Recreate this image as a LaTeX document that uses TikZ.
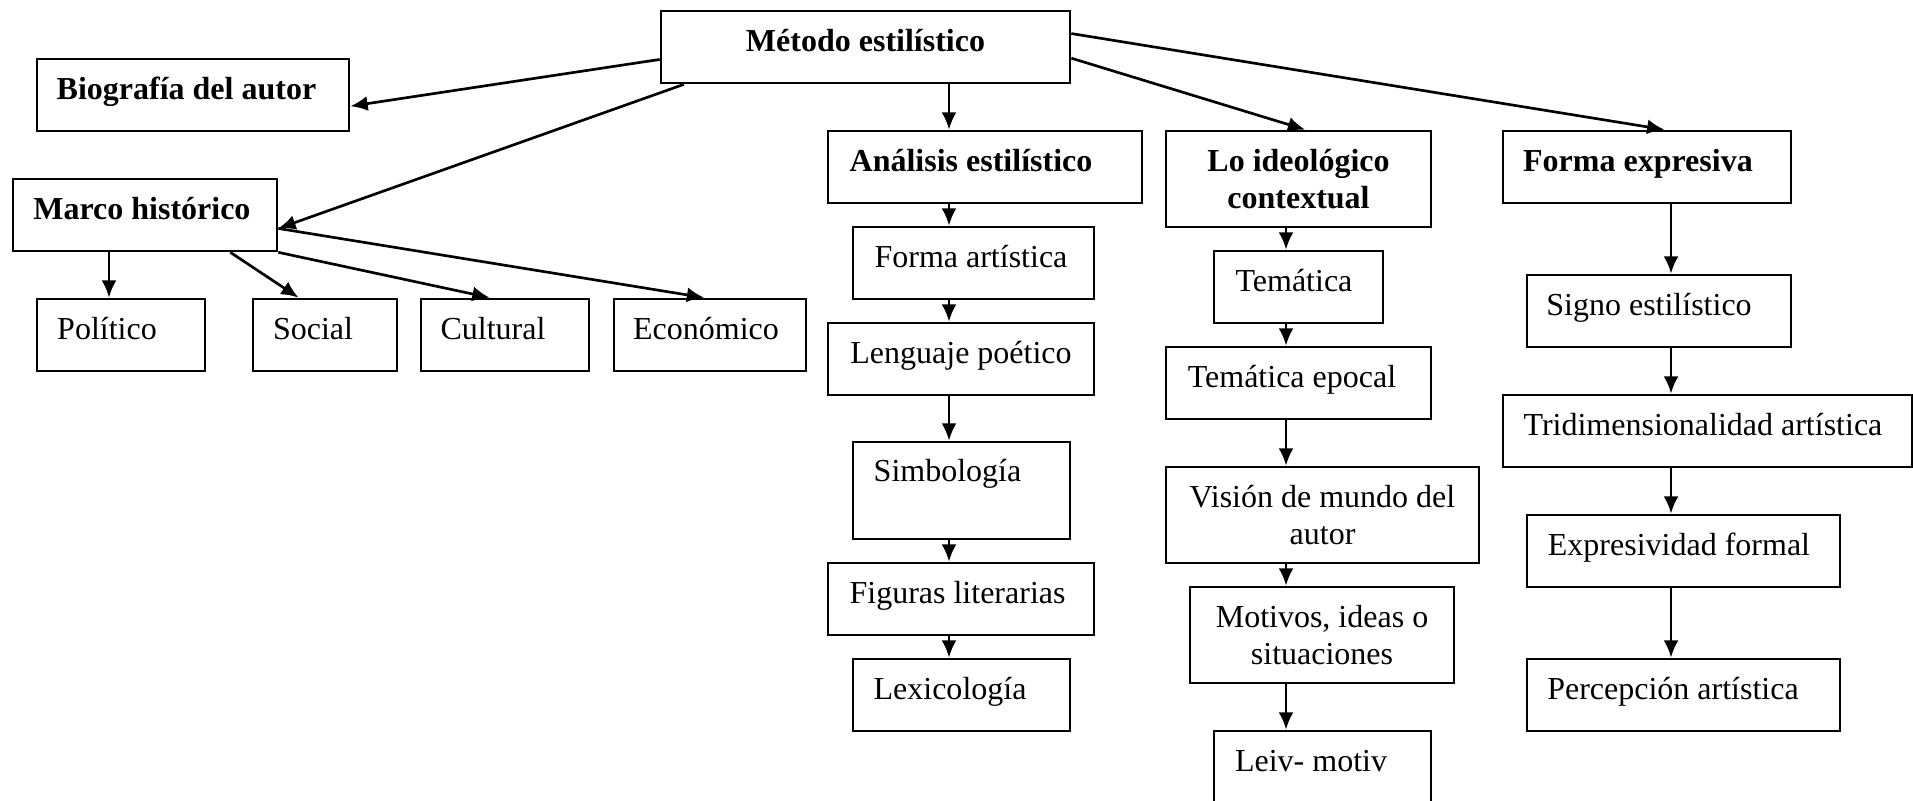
\documentclass[tikz,border=0pt]{standalone}
\usepackage{fontspec}
\setmainfont{Liberation Serif}
\usetikzlibrary{arrows.meta,calc}

\begin{document}
\begin{tikzpicture}[x=0.375pt,y=-0.375pt,
  box/.style 2 args={draw,line width=1pt,inner sep=0pt,align=center,
    minimum width=#1*0.375pt,minimum height=#2*0.375pt,
    text height=8.5pt,text depth=5pt,
    font=\fontsize{12}{13.8}\selectfont},
  two/.style={text height={},text depth={}},
  head/.style={font=\fontsize{12}{13.8}\selectfont\bfseries},
  pushup/.style={text depth=#1},
  lefty/.style={execute at end node={\hspace*{#1}}},
  arr/.style={-{Latex[length=6.5pt,width=5.6pt]},line width=1pt}]

\useasboundingbox (0,0) rectangle (1913,801);

%---------------------------------------------------------------
\node[box={409}{72},head] (metodo) at (865.5,47) {Método estilístico};
\node[box={312}{72},head,lefty=4.9pt] (bio) at (193,95) {Biografía del autor};
\node[box={264}{72},head,lefty=2.3pt] (marco) at (145,215) {Marco histórico};

\node[box={168}{72},lefty=10.5pt] (pol) at (121,335) {Político};
\node[box={144}{72},lefty=9pt] (soc) at (325,335) {Social};
\node[box={168}{72},lefty=9pt] (cul) at (505,335) {Cultural};
\node[box={192}{72},lefty=3pt] (eco) at (710,335) {Económico};

%---------------------------------------------------------------
\node[box={314}{72},head,lefty=10.5pt] (ana) at (985,167) {Análisis estilístico};
\node[box={241}{72},lefty=1.9pt] (fart) at (973.5,263) {Forma artística};
\node[box={266}{72}] (leng) at (961,359) {Lenguaje poético};
\node[box={217}{97},pushup=14.9pt,lefty=10.5pt] (simb) at (961.5,490.5) {Simbología};
\node[box={266}{72},lefty=2.6pt] (fig) at (961,599) {Figuras literarias};
\node[box={217}{72},lefty=8.6pt] (lex) at (961.5,695) {Lexicología};

%---------------------------------------------------------------
\node[box={265}{96},two,head] (ideo) at (1298.5,179) {Lo ideológico\\contextual};
\node[box={169}{72},lefty=3.4pt] (tem) at (1298.5,287) {Temática};
\node[box={265}{72},lefty=4.9pt] (temep) at (1298.5,383) {Temática epocal};
\node[box={313}{96},two] (vision) at (1322.5,515) {Visión de mundo del\\autor};
\node[box={264}{96},two] (motivos) at (1322,635) {Motivos, ideas o\\situaciones};
\node[box={217}{96},pushup=14.5pt,lefty=8.6pt] (leiv) at (1322.5,779) {Leiv- motiv};

%---------------------------------------------------------------
\node[box={288}{72},head,lefty=6.8pt] (forexp) at (1647,167) {Forma expresiva};
\node[box={264}{72},lefty=7.5pt] (signo) at (1659,311) {Signo estilístico};
\node[box={409}{72},lefty=3.4pt] (tri) at (1707.5,431) {Tridimensionalidad artística};
\node[box={313}{72},lefty=3.4pt] (expr) at (1683.5,551) {Expresividad formal};
\node[box={313}{72},lefty=7.9pt] (perc) at (1683.5,695) {Percepción artística};

\coordinate (colP) at (109,0);
\coordinate (colA) at (949,0);
\coordinate (colB) at (1286,0);
\coordinate (colC) at (1671,0);

%---------------------------------------------------------------
\draw[arr] ($(metodo.north west)!.667!(metodo.south west)$) -- ($(bio.north east)!.65!(bio.south east)$);
\draw[arr] ($(metodo.south west)!.059!(metodo.south east)$) -- ($(marco.north east)!.68!(marco.south east)$);
\draw[arr] (metodo.south -| colA) -- (ana.north -| colA);
\draw[arr] ($(metodo.north east)!.65!(metodo.south east)$) -- ($(ideo.north west)!.525!(ideo.north east)$);
\draw[arr] ($(metodo.north east)!.32!(metodo.south east)$) -- ($(forexp.north west)!.56!(forexp.north east)$);

\draw[arr] (marco.south -| colP) -- (pol.north -| colP);
\draw[arr] ($(marco.south west)!.82!(marco.south east)$) -- ($(soc.north west)!.32!(soc.north east)$);
\draw[arr] (marco.south east) -- ($(cul.north west)!.41!(cul.north east)$);
\draw[arr] ($(marco.north east)!.68!(marco.south east)$) -- ($(eco.north west)!.47!(eco.north east)$);

%---------------------------------------------------------------
\draw[arr] (ana.south -| colA) -- (fart.north -| colA);
\draw[arr] (fart.south -| colA) -- (leng.north -| colA);
\draw[arr] (leng.south -| colA) -- (simb.north -| colA);
\draw[arr] (simb.south -| colA) -- (fig.north -| colA);
\draw[arr] (fig.south -| colA) -- (lex.north -| colA);

\draw[arr] (ideo.south -| colB) -- (tem.north -| colB);
\draw[arr] (tem.south -| colB) -- (temep.north -| colB);
\draw[arr] (temep.south -| colB) -- (vision.north -| colB);
\draw[arr] (vision.south -| colB) -- (motivos.north -| colB);
\draw[arr] (motivos.south -| colB) -- (leiv.north -| colB);

\draw[arr] (forexp.south -| colC) -- (signo.north -| colC);
\draw[arr] (signo.south -| colC) -- (tri.north -| colC);
\draw[arr] (tri.south -| colC) -- (expr.north -| colC);
\draw[arr] (expr.south -| colC) -- (perc.north -| colC);

\end{tikzpicture}
\end{document}
